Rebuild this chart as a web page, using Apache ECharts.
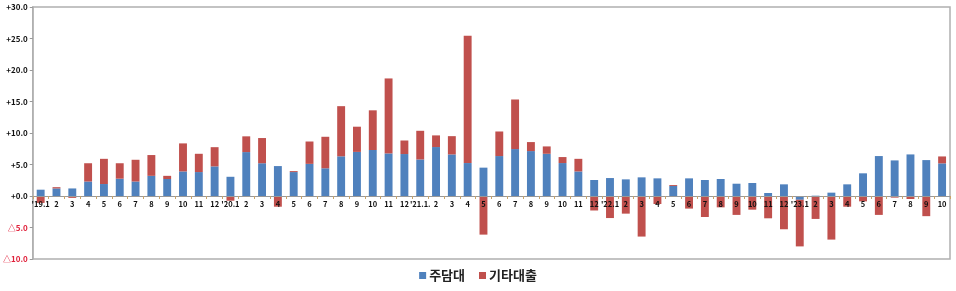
<!DOCTYPE html>
<html>
<head>
<meta charset="utf-8">
<script src="https://cdn.jsdelivr.net/npm/echarts@6/dist/echarts.min.js"></script>
<style>
html,body{margin:0;padding:0;background:#fff;}
#c{width:956px;height:291px;}
</style>
</head>
<body>
<div id="c"></div>
<script>
var categories = ["'19.1","2","3","4","5","6","7","8","9","10","11","12",
  "'20.1","2","3","4","5","6","7","8","9","10","11","12",
  "'21.1.","2","3","4","5","6","7","8","9","10","11","12",
  "'22.1","2","3","4","5","6","7","8","9","10","11","12",
  "'23.1","2","3","4","5","6","7","8","9","10"];
var mortgage = [1.0,1.2,1.2,2.3,1.9,2.75,2.3,3.2,2.7,3.9,3.8,4.7,
  3.05,6.97,5.2,4.75,3.8,5.1,4.4,6.3,7.0,7.3,6.76,6.66,
  5.8,7.77,6.6,5.23,4.5,6.34,7.45,7.13,6.7,5.23,3.9,2.54,
  2.85,2.64,2.96,2.8,1.6,2.8,2.54,2.7,1.95,2.06,0.48,1.85,
  -0.6,0.05,0.53,1.85,3.6,6.34,5.65,6.6,5.7,5.18];
var otherLoans = [-1.1,0.2,-0.3,2.9,4.0,2.45,3.45,3.3,0.5,4.45,2.9,3.05,
  -0.75,2.5,4.0,-1.7,0.15,3.55,5.0,7.96,4.0,6.3,11.9,2.15,
  4.55,1.85,2.9,20.2,-6.13,3.9,7.87,1.43,1.17,0.95,2.0,-2.3,
  -3.5,-2.8,-6.44,-1.27,0.15,-2.0,-3.33,-1.8,-3.0,-2.17,-3.54,-5.28,
  -7.4,-3.64,-6.92,-1.7,-0.85,-3.0,-0.26,-0.48,-3.2,1.1];
var seriesNames = ["주담대","기타대출"];

var chart = echarts.init(document.getElementById('c'));
var font = "'Noto Sans CJK KR', 'Noto Sans', sans-serif";
chart.setOption({
  animation:false,
  textStyle:{fontFamily:font},
  grid:{left:29,right:6,top:7,bottom:32,show:true,borderColor:'#b0b0b0',borderWidth:1.5,backgroundColor:'#fff'},
  legend:{
    bottom:4,left:'center',itemWidth:7,itemHeight:7,itemGap:14,icon:'rect',
    textStyle:{fontSize:13,fontWeight:'bold',color:'#222',fontFamily:font,padding:[0,0,0,-2]},
    data:seriesNames
  },
  xAxis:{
    type:'category',data:categories,
    offset:-63,
    z:10,
    axisLine:{onZero:false,lineStyle:{color:'#999',width:1}},
    axisTick:{show:true,length:3,alignWithLabel:false,lineStyle:{color:'#c9a46a'}},
    axisLabel:{interval:0,hideOverlap:false,fontSize:7.5,fontWeight:'bold',color:'#111',margin:4,fontFamily:font}
  },
  yAxis:{
    type:'value',min:-10,max:30,interval:5,
    splitLine:{show:false},
    axisLine:{show:true,lineStyle:{color:'#b0b0b0',width:1.5}},
    axisTick:{show:true,length:3,lineStyle:{color:'#999'}},
    axisLabel:{fontSize:8,fontWeight:'bold',margin:5,fontFamily:font,
      formatter:function(v){ if(v<0) return '△'+Math.abs(v).toFixed(1); return '+'+v.toFixed(1); },
      color:function(v){ return Number(v)<0 ? '#e0203a' : '#111'; }
    }
  },
  series:[
    {name:seriesNames[0],type:'bar',stack:'a',data:mortgage,barWidth:'50%',itemStyle:{color:'#4F81BD'}},
    {name:seriesNames[1],type:'bar',stack:'a',data:otherLoans,barWidth:'50%',itemStyle:{color:'#C0504D'}}
  ]
});
</script>
</body>
</html>
